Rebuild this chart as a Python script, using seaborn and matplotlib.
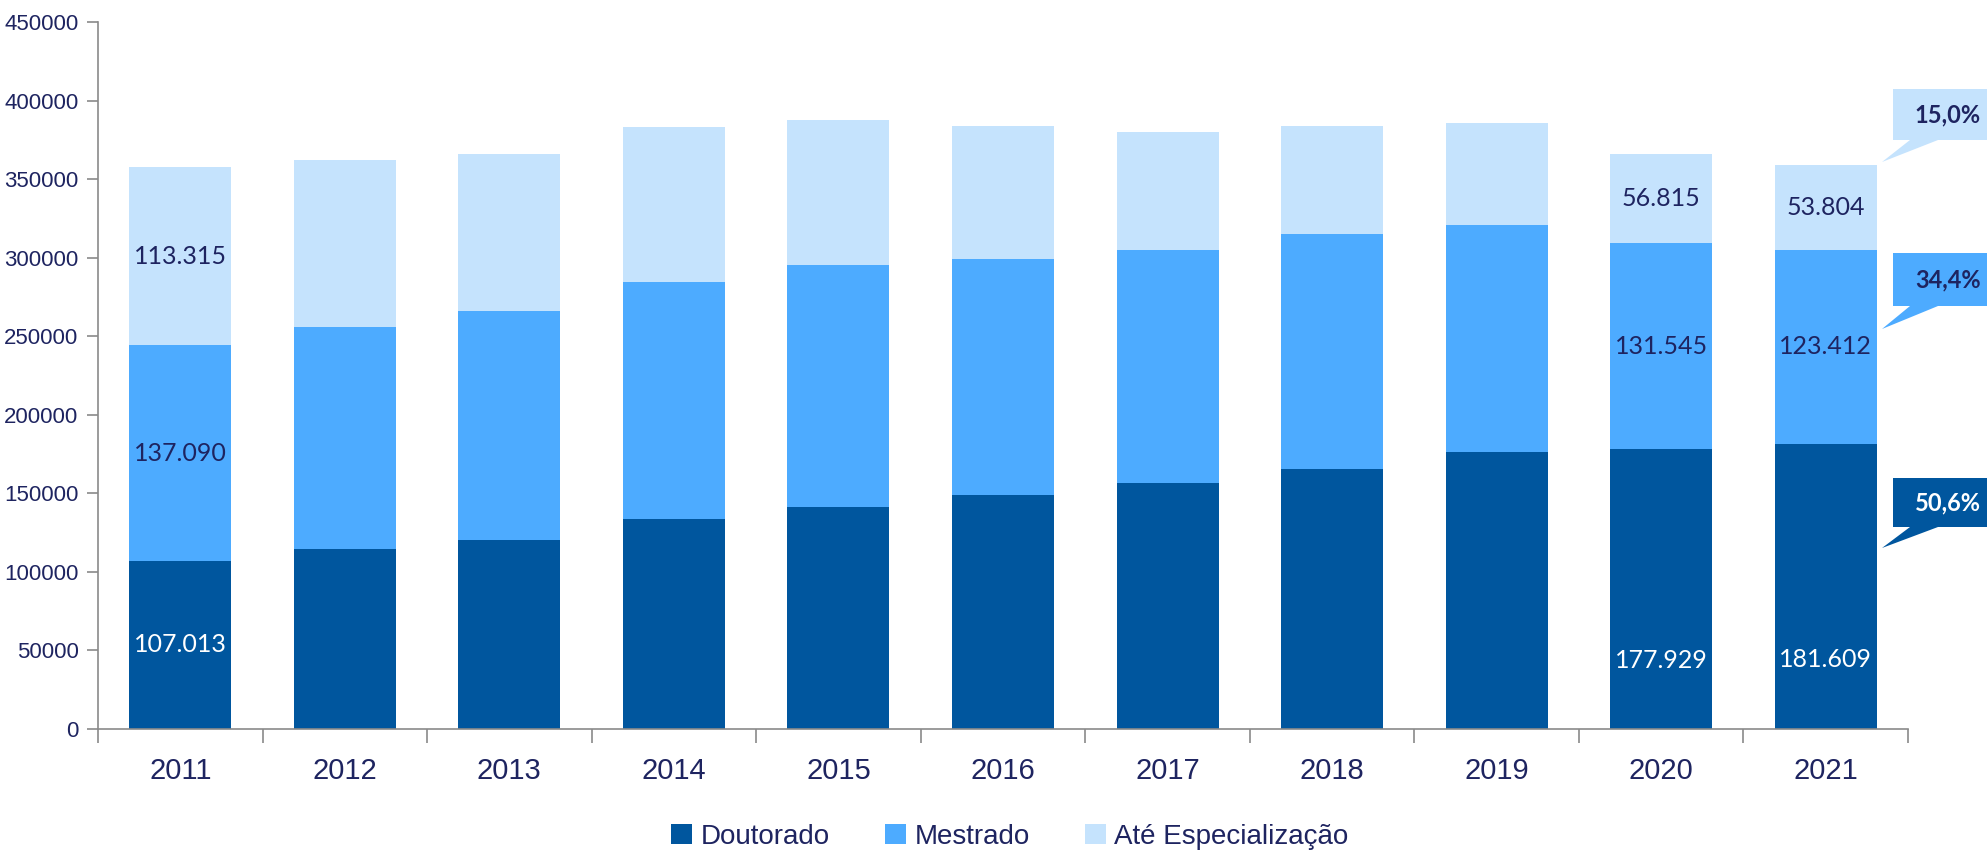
import numpy as np
import pandas as pd
import seaborn as sns
import matplotlib.pyplot as plt
from matplotlib.patches import Polygon, Patch

# data (2011 and 2020/2021 values are labelled on the chart, the rest)
anos = ["2011", "2012", "2013", "2014", "2015", "2016", "2017", "2018", "2019", "2020", "2021"]
doutorado = [107013, 114500, 120200, 133900, 141100, 149200, 156500, 165300, 176600, 177929, 181609]
mestrado = [137090, 141200, 145900, 150800, 154100, 150000, 148400, 150000, 144400, 131545, 123412]
especializacao = [113315, 106400, 100000, 98400, 92700, 84700, 75000, 68600, 64500, 56815, 53804]
rotulados = ["2011", "2020", "2021"]
series = ["Doutorado", "Mestrado", "Até Especialização"]
cores = ["#00569E", "#4DABFF", "#C5E3FD"]

navy = "#1E2460"
sns.set_style("white")
plt.rcParams['font.family'] = ['Liberation Sans Narrow', 'Liberation Sans', 'DejaVu Sans']

df = pd.DataFrame({"ano": anos, "d": doutorado, "m": mestrado, "e": especializacao})
df["dm"] = df["d"] + df["m"]
df["total"] = df["dm"] + df["e"]

fig = plt.figure(figsize=(19.87, 8.52), dpi=100)
ax = fig.add_axes([98 / 1987, 1 - 729 / 852, (1908 - 98) / 1987, (729 - 22) / 852])

# stacked by overlaying cumulative totals
for col, c in zip(["total", "dm", "d"], cores[::-1]):
    sns.barplot(data=df, x="ano", y=col, color=c, width=0.62, ax=ax,
                saturation=1, linewidth=0, edgecolor="none")

ax.set_ylim(0, 450000)
ax.set_xlim(-0.5, len(anos) - 0.5)
ax.set_yticks(np.arange(0, 450001, 50000))
ax.set_yticklabels([str(v) for v in range(0, 450001, 50000)], fontsize=16, color=navy)
ax.tick_params(axis="y", length=8, width=1.2, color="#8a8a8a", pad=6, direction="out", left=True)
ax.tick_params(axis="x", which="major", length=0, pad=20, labelsize=21, labelcolor=navy)
ax.set_xticks(np.arange(-0.5, len(anos)), minor=True)
ax.tick_params(axis="x", which="minor", length=10, width=1.2, color="#8a8a8a", bottom=True)
ax.set_xlabel("")
ax.set_ylabel("")
for s in ["top", "right"]:
    ax.spines[s].set_visible(False)
for s in ["left", "bottom"]:
    ax.spines[s].set_color("#8a8a8a")
    ax.spines[s].set_linewidth(1.2)

# value labels
lab_font = ['Lato', 'DejaVu Sans']
def fmt(v):
    return f"{v:,}".replace(",", ".")

for i, a in enumerate(anos):
    if a not in rotulados:
        continue
    d, m, e = doutorado[i], mestrado[i], especializacao[i]
    yd = d / 2 if a == "2011" else d * 0.245
    ax.text(i, yd, fmt(d), ha="center", va="center", color="white", fontsize=18, family=lab_font)
    ax.text(i, d + m / 2, fmt(m), ha="center", va="center", color=navy, fontsize=18, family=lab_font)
    ax.text(i, d + m + e / 2, fmt(e), ha="center", va="center", color=navy, fontsize=18, family=lab_font)

# callouts with the 2021 shares
tot = doutorado[-1] + mestrado[-1] + especializacao[-1]
shares = [doutorado[-1] / tot, mestrado[-1] / tot, especializacao[-1] / tot]
# (box top, box bottom, tip y) in pixels from top
boxes = [(478, 527, 548), (253, 306, 329), (89, 140, 162)]
txtcol = ["white", navy, navy]
W, H = 1987, 852
for k in range(3):
    top, bot, tip = boxes[k]
    x0, x1 = 1893, 1987
    poly = [(x0, top), (x1, top), (x1, bot), (1938, bot), (1882, tip), (1910, bot), (x0, bot)]
    poly = [(x / W, 1 - y / H) for x, y in poly]
    fig.patches.append(Polygon(poly, closed=True, transform=fig.transFigure,
                               facecolor=cores[k], edgecolor="none"))
    pct = f"{shares[k] * 100:.1f}%".replace(".", ",")
    fig.text(1948 / W, 1 - (top + bot) / 2 / H, pct, ha="center", va="center",
             fontsize=17, fontweight="bold", color=txtcol[k], family=lab_font)

handles = [Patch(facecolor=c, edgecolor="none") for c in cores]
fig.legend(handles, series, loc="center", bbox_to_anchor=(1010 / W, 1 - 837 / H), ncol=3,
           frameon=False, fontsize=20, labelcolor=navy, handlelength=0.75, handleheight=0.75,
           handletextpad=0.3, columnspacing=2.0)

fig.savefig("out.png", dpi=100)
